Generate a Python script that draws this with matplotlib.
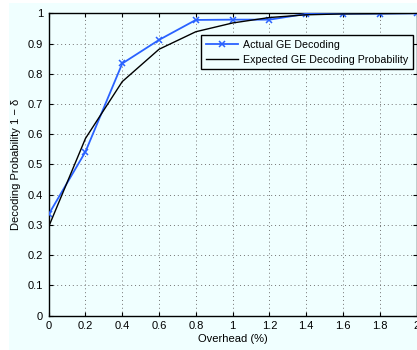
import matplotlib
matplotlib.use("Agg")
import matplotlib.pyplot as plt
from matplotlib.patches import Rectangle

# overhead values (%) and decoding probabilities
overhead = [0, 0.2, 0.4, 0.6, 0.8, 1.0, 1.2, 1.4, 1.6, 1.8, 2.0]
actual_ge = [0.335, 0.542, 0.834, 0.912, 0.978, 0.979, 0.979, 0.998, 0.999, 0.999, 1.0]
expected_ge = [0.294, 0.586, 0.774, 0.881, 0.939, 0.968, 0.986, 0.995, 0.998, 0.999, 1.0]

xticks = [0, 0.2, 0.4, 0.6, 0.8, 1, 1.2, 1.4, 1.6, 1.8, 2]
xticklabels = ['0', '0.2', '0.4', '0.6', '0.8', '1', '1.2', '1.4', '1.6', '1.8', '2']
yticks = [0, 0.1, 0.2, 0.3, 0.4, 0.5, 0.6, 0.7, 0.8, 0.9, 1]
yticklabels = ['0', '0.1', '0.2', '0.3', '0.4', '0.5', '0.6', '0.7', '0.8', '0.9', '1']

plt.rcParams['font.family'] = ['Liberation Sans', 'DejaVu Sans']
bg = '#f0ffff'
W, H = 417, 350

fig = plt.figure(figsize=(W / 100, H / 100), dpi=100, facecolor='white')
fig.add_artist(Rectangle((9 / W, 0), 1, 1 - 3 / H, transform=fig.transFigure,
                         facecolor=bg, edgecolor='none', zorder=-1))

ax = fig.add_axes([48.7 / W, 1 - 315.5 / H, (416.5 - 48.7) / W, (315.5 - 13.3) / H])
ax.set_facecolor(bg)

ax.plot(overhead, actual_ge, color='#2a62ff', lw=1.3, marker='x', ms=4.5, mew=1.1,
        label='Actual GE Decoding', zorder=3)
ax.plot(overhead, expected_ge, color='black', lw=1.0,
        label='Expected GE Decoding Probability', zorder=3)

ax.set_xlim(0, 2)
ax.set_ylim(0, 1)
ax.set_xticks(xticks)
ax.set_xticklabels(xticklabels)
ax.set_yticks(yticks)
ax.set_yticklabels(yticklabels)
ax.tick_params(direction='in', top=True, right=True, length=3, width=0.8,
               labelsize=8, color='black')
ax.tick_params(axis='x', pad=4)
ax.tick_params(axis='y', pad=4)
ax.grid(True, linestyle=(0, (1, 3)), color='0.45', lw=0.7)
for s in ax.spines.values():
    s.set_linewidth(1.0)

ax.set_xlabel('Overhead (%)', fontsize=8, labelpad=2)
ax.set_ylabel('Decoding Probability 1 − δ', fontsize=8, labelpad=5)

leg = ax.legend(loc='upper right', bbox_to_anchor=(413 / W, 1 - 35 / H),
                bbox_transform=fig.transFigure, borderaxespad=0, fontsize=7.7,
                handlelength=3.0, handletextpad=0.5, borderpad=0.45,
                labelspacing=0.45, fancybox=False, framealpha=1)
leg.get_frame().set_edgecolor('black')
leg.get_frame().set_facecolor(bg)
leg.get_frame().set_linewidth(1.0)

fig.savefig('out.png', dpi=100, facecolor='white')
